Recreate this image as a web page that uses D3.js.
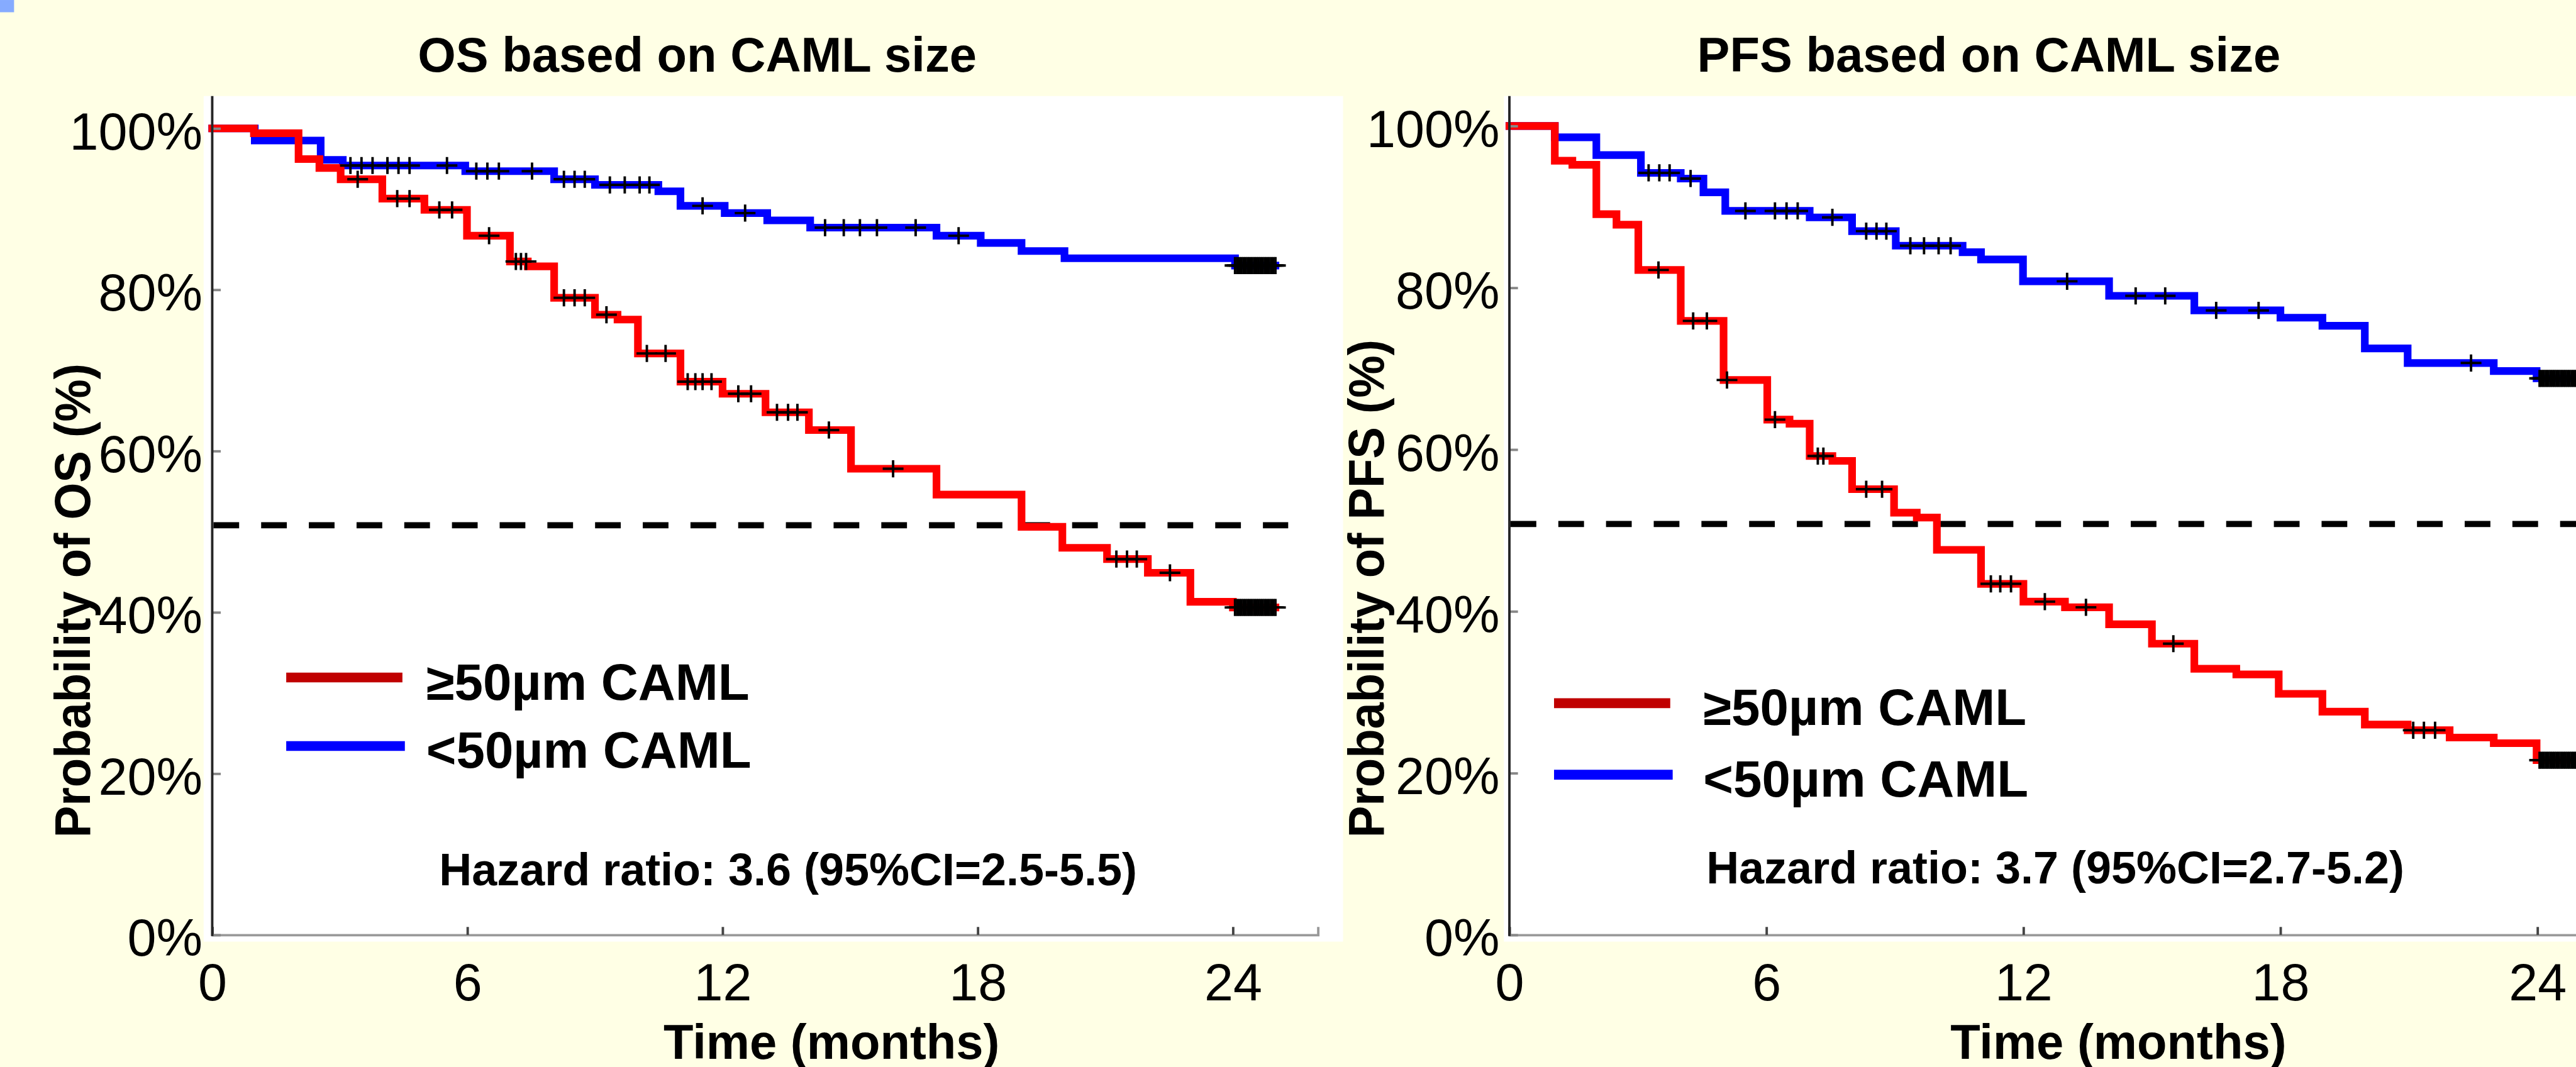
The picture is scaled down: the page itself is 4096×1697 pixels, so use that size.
<!DOCTYPE html>
<html>
<head>
<meta charset="utf-8">
<script src="https://cdn.jsdelivr.net/npm/d3@7"></script>
<style>
  html, body { margin: 0; padding: 0; background: #ffffe5; overflow: hidden; }
  text { font-family: "Liberation Sans", Arial, sans-serif; fill: #000; }
</style>
</head>
<body>
<div id="chart"></div>
<script>
// ---- data (months, % surviving) ----
var xTickVals = [0, 6, 12, 18, 24];
var yTickVals = [0, 20, 40, 60, 80, 100];
var seriesNames = ["\u226550\u00b5m CAML", "<50\u00b5m CAML"];
var medianLevel = 50.8;

// OS, <50um
var osLowT = [0, 1.0, 2.55, 3.07, 5.95, 8.04, 9.0, 10.49, 11.01, 12.05, 13.05, 14.06, 17.03, 18.07, 19.03, 20.04, 24.05];
var osLowS = [100, 98.5, 96.1, 95.4, 94.7, 93.7, 93.0, 92.2, 90.4, 89.5, 88.6, 87.7, 86.7, 85.8, 84.8, 83.9, 83.0];
var osLowCens = [3.25, 3.51, 3.77, 4.12, 4.38, 4.64, 5.52, 6.21, 6.47, 6.74, 7.52, 8.27, 8.52, 8.76, 9.35, 9.70, 10.05, 10.28, 11.53, 12.53, 14.41, 14.85, 15.23, 15.63, 16.54, 17.55];
// OS, >=50um
var osHighT = [0, 0.98, 2.03, 2.52, 3.02, 4.0, 4.99, 5.99, 7.0, 7.42, 8.04, 9.0, 9.53, 10.01, 11.01, 12.0, 13.01, 14.03, 15.02, 17.03, 19.03, 19.99, 21.04, 22.0, 23.0, 24.0];
var osHighS = [100, 99.4, 96.2, 95.1, 93.7, 91.3, 89.9, 86.7, 83.5, 82.9, 79.0, 76.9, 76.3, 72.1, 68.6, 67.1, 64.8, 62.6, 57.8, 54.6, 50.6, 48.0, 46.6, 44.9, 41.3, 40.6];
var osHighCens = [3.42, 4.35, 4.64, 5.34, 5.64, 6.51, 7.14, 7.26, 7.38, 8.27, 8.52, 8.76, 9.27, 10.22, 10.66, 11.18, 11.36, 11.53, 11.74, 12.37, 12.67, 13.28, 13.54, 13.76, 14.5, 16.01, 21.26, 21.51, 21.74, 22.52];

// PFS, <50um
var pfsLowT = [0, 1.06, 2.03, 3.07, 4.0, 4.53, 5.04, 7.01, 8.0, 9.02, 10.58, 11.01, 11.99, 14.0, 15.99, 18.0, 18.98, 19.97, 20.97, 22.98, 23.98];
var pfsLowS = [100, 98.6, 96.4, 94.2, 93.5, 91.8, 89.5, 88.7, 87.0, 85.2, 84.4, 83.5, 80.8, 79.0, 77.2, 76.3, 75.3, 72.5, 70.7, 69.7, 68.8];
var pfsLowCens = [3.25, 3.5, 3.74, 4.23, 5.51, 6.2, 6.47, 6.73, 7.54, 8.33, 8.57, 8.8, 9.36, 9.68, 10.02, 10.3, 13.02, 14.62, 15.31, 16.5, 17.49, 22.45];
// PFS, >=50um
var pfsHighT = [0, 1.06, 1.47, 2.03, 2.5, 3.01, 4.0, 5.0, 6.02, 6.54, 7.01, 7.54, 8.0, 8.98, 9.51, 9.98, 11.01, 12.0, 12.97, 14.0, 15.0, 15.99, 16.97, 17.96, 18.98, 19.97, 20.97, 21.95, 22.98, 23.98];
var pfsHighS = [100, 95.7, 95.2, 89.1, 87.8, 82.2, 75.9, 68.6, 63.7, 63.2, 59.2, 58.6, 55.1, 52.2, 51.6, 47.6, 43.4, 41.2, 40.5, 38.4, 36.0, 32.9, 32.2, 29.8, 27.6, 26.0, 25.3, 24.4, 23.7, 21.6];
var pfsHighCens = [3.48, 4.29, 4.61, 5.08, 6.2, 7.2, 7.33, 8.33, 8.7, 11.24, 11.46, 11.71, 12.5, 13.46, 15.5, 21.1, 21.35, 21.61];

// lots of patients censored at the end of follow-up (shows as a black block)
var tailCens = [24.05, 24.1, 24.15, 24.2, 24.25, 24.3, 24.35, 24.4, 24.45, 24.5, 24.55, 24.6, 24.65, 24.7, 24.75, 24.8, 24.85, 24.9, 24.95, 25.0];
var followEnd = 25.0;

// ---- drawing (reference pixel space, scaled down by the viewBox) ----
var W = 4212, H = 1745;
var svg = d3.select("#chart").append("svg")
  .attr("width", 4096).attr("height", 1697)
  .attr("viewBox", "0 0 " + W + " " + H);

svg.append("rect").attr("width", W).attr("height", H).attr("fill", "#ffffe5");
svg.append("rect").attr("x", 0).attr("y", 0).attr("width", 23).attr("height", 20).attr("fill", "#86abff");

var panels = [
  { box: [333, 157, 2196, 1540], x0: 347, x1: 2155, yTop: 210,
    dashEnd: 25.3,
    title: "OS based on CAML size", titleX: 683,
    ylab: "Probability of OS (%)", ylabX: 147,
    xlabX: 1085, legX: 468, legY: 1108, legTextX: 697,
    hr: "Hazard ratio: 3.6 (95%CI=2.5-5.5)", hrX: 718, hrY: 1448,
    high: [osHighT, osHighS, osHighCens], low: [osLowT, osLowS, osLowCens] },
  { box: [2459, 157, 4300, 1540], x0: 2468, x1: 2468 + 26 * 70.04, yTop: 206,
    dashEnd: 26,
    title: "PFS based on CAML size", titleX: 2775,
    ylab: "Probability of PFS (%)", ylabX: 2262,
    xlabX: 3189, legX: 2541, legY: 1150, legTextX: 2785,
    hr: "Hazard ratio: 3.7 (95%CI=2.7-5.2)", hrX: 2790, hrY: 1445,
    high: [pfsHighT, pfsHighS, pfsHighCens], low: [pfsLowT, pfsLowS, pfsLowCens] }
];

var yBottom = 1529;

panels.forEach(function(p) {
  var g = svg.append("g");

  g.append("rect")
    .attr("x", p.box[0]).attr("y", p.box[1])
    .attr("width", p.box[2] - p.box[0]).attr("height", p.box[3] - p.box[1])
    .attr("fill", "#ffffff");

  var x = d3.scaleLinear().domain([0, 26]).range([p.x0, p.x1]);
  var y = d3.scaleLinear().domain([0, 100]).range([yBottom, p.yTop]);

  // median reference line
  g.append("line")
    .attr("x1", x(0) + 2).attr("x2", x(p.dashEnd))
    .attr("y1", y(medianLevel)).attr("y2", y(medianLevel))
    .attr("stroke", "#000").attr("stroke-width", 10)
    .attr("stroke-dasharray", "42,36");

  var line = d3.line()
    .x(function(d) { return x(d[0]); })
    .y(function(d) { return y(d[1]); })
    .curve(d3.curveStepAfter);

  function stepAt(T, S, t) {
    var i = d3.bisectRight(T, t) - 1;
    return S[Math.max(0, i)];
  }

  function drawCurve(s, color) {
    var T = s[0], S = s[1];
    var pts = T.map(function(t, i) { return [t, S[i]]; });
    pts.push([followEnd, S[S.length - 1]]);
    g.append("path").datum(pts)
      .attr("d", line)
      .attr("fill", "none")
      .attr("stroke", color)
      .attr("stroke-width", 12.5)
      .attr("stroke-linejoin", "miter")
      .attr("stroke-linecap", "square");
  }

  function drawCensors(s) {
    var T = s[0], S = s[1];
    var times = s[2].concat(tailCens);
    var c = g.append("g").attr("stroke", "#000").attr("stroke-width", 4);
    c.selectAll("path").data(times).enter().append("path")
      .attr("d", function(t) {
        var cx = x(t), cy = y(stepAt(T, S, t));
        return "M" + (cx - 17) + "," + cy + "H" + (cx + 17) +
               "M" + cx + "," + (cy - 14) + "V" + (cy + 14);
      });
  }

  drawCurve(p.low, "#0000ff");
  drawCurve(p.high, "#ff0000");
  drawCensors(p.low);
  drawCensors(p.high);

  // axes
  var xAxis = d3.axisBottom(x).tickValues(xTickVals)
    .tickSizeInner(-13).tickSizeOuter(-13).tickPadding(47);
  var gx = g.append("g").attr("transform", "translate(0," + yBottom + ")").call(xAxis);
  gx.select(".domain").attr("stroke", "#999").attr("stroke-width", 4);
  gx.selectAll(".tick line").attr("stroke", "#444").attr("stroke-width", 4);
  gx.selectAll(".tick text").attr("font-size", 85).attr("font-family", null);

  var yAxis = d3.axisLeft(y).tickValues(yTickVals)
    .tickFormat(function(d) { return d + "%"; })
    .tickSizeInner(-14).tickSizeOuter(0).tickPadding(16);
  var gy = g.append("g").attr("transform", "translate(" + p.x0 + ",0)").call(yAxis);
  gy.select(".domain").remove();
  gy.selectAll(".tick line").attr("stroke", "#888").attr("stroke-width", 4);
  gy.selectAll(".tick text").attr("font-size", 85).attr("font-family", null).attr("dy", "0.4em");
  g.append("line")
    .attr("x1", p.x0).attr("x2", p.x0)
    .attr("y1", p.box[1]).attr("y2", yBottom + 2)
    .attr("stroke", "#262626").attr("stroke-width", 4);

  // texts
  g.append("text").attr("x", p.titleX).attr("y", 117)
    .attr("font-size", 80).attr("font-weight", "bold").text(p.title);
  g.append("text").attr("x", p.xlabX).attr("y", 1732)
    .attr("font-size", 80).attr("font-weight", "bold").text("Time (months)");
  g.append("text")
    .attr("transform", "translate(" + p.ylabX + ",1370) rotate(-90) scale(1,1.06)")
    .attr("font-size", 78).attr("font-weight", "bold").text(p.ylab);
  g.append("text").attr("x", p.hrX).attr("y", p.hrY)
    .attr("font-size", 74).attr("font-weight", "bold").text(p.hr);

  // legend
  var legColors = ["#c00000", "#0000ff"];
  var legGap = [0, 112 + (p.legY > 1120 ? 5 : 0)];
  seriesNames.forEach(function(name, i) {
    var ly = p.legY + legGap[i];
    g.append("line").attr("x1", p.legX).attr("x2", p.legX + 190 + i * 4)
      .attr("y1", ly).attr("y2", ly)
      .attr("stroke", legColors[i]).attr("stroke-width", 16);
    g.append("text").attr("x", p.legTextX).attr("y", ly + 36)
      .attr("font-size", 84).attr("font-weight", "bold").text(name);
  });
});
</script>
</body>
</html>
